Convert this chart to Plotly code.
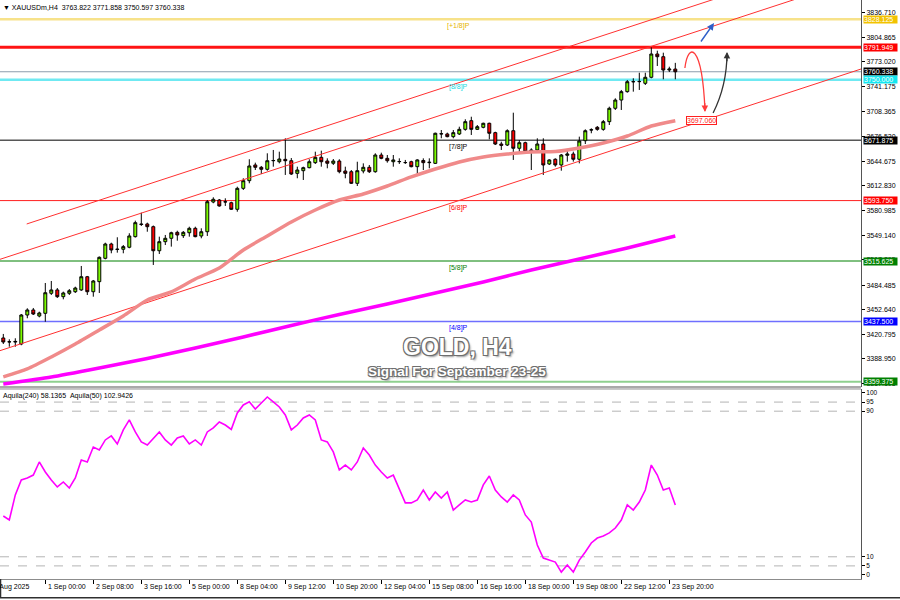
import plotly.graph_objects as go

# ---------------- data ----------------
opens = [3416.1, 3411.3, 3410.8, 3408.3, 3445.8, 3452.3, 3444.5, 3448.0, 3473.9, 3478.2,
         3469.5, 3473.9, 3475.9, 3478.2, 3495.3, 3475.9, 3488.9, 3519.1, 3537.6, 3530.5,
         3530.8, 3533.4, 3547.1, 3563.5, 3563.5, 3560.0, 3528.9, 3540.6, 3545.0, 3552.7,
         3548.4, 3552.2, 3557.9, 3548.0, 3553.5, 3591.9, 3594.5, 3592.3, 3591.0, 3582.5,
         3609.6, 3619.5, 3639.8, 3636.8, 3634.2, 3645.3, 3644.0, 3647.1, 3645.3, 3629.0,
         3632.4, 3636.3, 3642.8, 3649.7, 3644.9, 3642.0, 3644.9, 3632.0, 3631.1, 3616.1,
         3632.0, 3636.8, 3631.1, 3652.7, 3648.4, 3644.0, 3644.0, 3642.8, 3644.0, 3637.6,
         3645.6, 3642.8, 3641.9, 3679.9, 3679.9, 3676.4, 3679.9, 3685.9, 3697.1, 3685.9,
         3688.5, 3693.7, 3681.6, 3666.9, 3665.6, 3684.1, 3661.4, 3668.6, 3659.2, 3659.2,
         3666.9, 3641.1, 3647.2, 3639.8, 3652.3, 3654.0, 3647.2, 3671.2, 3685.0, 3688.5,
         3685.9, 3695.8, 3713.1, 3723.8, 3734.6, 3747.3, 3747.5, 3745.4, 3753.2, 3783.3,
         3779.8, 3762.6, 3763.822]
highs = [3421.3, 3414.4, 3415.7, 3447.1, 3454.5, 3454.9, 3450.1, 3487.2, 3489.8, 3480.7,
         3476.0, 3479.4, 3482.4, 3509.2, 3496.3, 3491.1, 3521.5, 3539.3, 3539.3, 3546.3,
         3536.3, 3551.5, 3567.8, 3578.1, 3565.2, 3561.5, 3547.1, 3549.3, 3553.5, 3554.8,
         3554.4, 3560.0, 3560.0, 3557.9, 3594.5, 3598.0, 3595.8, 3596.7, 3592.3, 3611.7,
         3622.6, 3647.2, 3642.8, 3638.5, 3654.9, 3659.2, 3657.0, 3674.3, 3648.8, 3637.6,
         3637.6, 3647.2, 3657.0, 3658.3, 3648.4, 3647.5, 3647.2, 3637.6, 3633.3, 3644.0,
         3641.9, 3639.8, 3654.9, 3655.7, 3652.7, 3652.7, 3648.4, 3646.3, 3645.3, 3647.2,
         3648.4, 3648.4, 3681.6, 3685.0, 3681.6, 3685.0, 3689.3, 3698.9, 3702.2, 3691.5,
         3694.5, 3694.5, 3682.8, 3669.9, 3685.9, 3707.4, 3672.1, 3669.9, 3661.4, 3674.3,
         3674.3, 3647.2, 3648.4, 3654.0, 3659.2, 3657.0, 3676.4, 3685.9, 3687.2, 3690.2,
         3698.0, 3715.2, 3726.0, 3736.8, 3749.7, 3751.9, 3759.1, 3759.1, 3791.9, 3787.6,
         3785.0, 3766.9, 3771.858]
lows = [3408.3, 3404.8, 3404.8, 3406.7, 3441.6, 3445.8, 3442.8, 3437.1, 3471.7, 3467.8,
        3466.1, 3471.7, 3474.3, 3477.0, 3471.7, 3469.5, 3474.3, 3517.8, 3525.6, 3526.4,
        3525.6, 3532.1, 3546.0, 3560.9, 3553.5, 3510.5, 3524.7, 3536.3, 3534.2, 3541.9,
        3545.4, 3547.1, 3546.3, 3545.0, 3548.0, 3590.3, 3585.9, 3586.8, 3581.6, 3579.4,
        3607.5, 3616.1, 3633.3, 3628.1, 3632.4, 3637.6, 3641.9, 3626.9, 3626.9, 3622.6,
        3620.4, 3635.5, 3641.1, 3637.6, 3635.5, 3639.8, 3629.0, 3622.6, 3615.2, 3612.6,
        3629.0, 3629.4, 3629.8, 3647.2, 3642.8, 3637.6, 3641.1, 3641.1, 3636.8, 3625.6,
        3633.3, 3635.5, 3641.1, 3674.3, 3675.6, 3674.3, 3678.6, 3684.1, 3678.6, 3685.0,
        3687.2, 3673.0, 3665.6, 3659.2, 3664.3, 3646.3, 3654.9, 3655.7, 3633.3, 3655.7,
        3626.9, 3639.8, 3637.6, 3632.4, 3644.1, 3644.1, 3641.9, 3666.9, 3680.8, 3684.1,
        3684.1, 3691.5, 3710.9, 3710.9, 3733.3, 3734.6, 3736.8, 3743.2, 3751.9, 3767.8,
        3750.6, 3760.0, 3750.597]
closes = [3410.9, 3411.0, 3411.6, 3445.8, 3452.3, 3447.1, 3448.4, 3474.6, 3478.2, 3469.5,
          3474.3, 3477.2, 3480.7, 3495.3, 3475.9, 3489.8, 3520.4, 3537.6, 3529.9, 3530.9,
          3534.2, 3548.0, 3565.2, 3562.9, 3560.0, 3528.9, 3540.6, 3545.0, 3552.2, 3549.3,
          3552.7, 3557.9, 3547.1, 3553.5, 3592.3, 3595.4, 3586.8, 3592.0, 3582.5, 3609.6,
          3619.5, 3638.5, 3636.8, 3634.2, 3645.3, 3645.6, 3647.5, 3645.3, 3628.1, 3633.3,
          3636.3, 3644.0, 3649.7, 3644.0, 3642.0, 3644.9, 3631.1, 3629.0, 3616.1, 3632.4,
          3636.8, 3631.1, 3652.7, 3648.4, 3645.3, 3646.3, 3644.3, 3643.0, 3637.6, 3646.3,
          3642.8, 3643.3, 3680.8, 3680.2, 3676.4, 3681.6, 3685.9, 3695.8, 3685.9, 3689.3,
          3693.7, 3680.8, 3666.9, 3665.2, 3684.1, 3661.4, 3668.6, 3657.0, 3657.0, 3666.9,
          3639.8, 3646.3, 3639.8, 3652.7, 3654.0, 3647.2, 3670.8, 3684.1, 3685.3, 3685.9,
          3695.8, 3713.1, 3723.8, 3734.6, 3747.5, 3747.6, 3747.8, 3753.2, 3783.3, 3779.8,
          3762.6, 3763.8, 3760.338]
bars = list(range(len(opens)))

fast_ma_bars = [0, 4, 8, 12, 16, 20, 24, 28, 32, 36, 40, 44, 48, 52, 56, 60, 64, 68, 72,
                76, 80, 84, 88, 92, 96, 100, 104, 108, 112]
fast_ma = [3365.7, 3376.0, 3391.5, 3408.3, 3426.4, 3444.6, 3465.2, 3475.6, 3492.4, 3506.6,
           3529.9, 3548.0, 3566.1, 3581.6, 3594.5, 3602.3, 3612.6, 3624.3, 3634.6, 3643.7,
           3650.1, 3654.0, 3656.6, 3657.2, 3661.8, 3668.2, 3677.3, 3690.2, 3697.06]
slow_ma_bars = [0, 8, 16, 24, 32, 40, 48, 56, 64, 72, 80, 88, 96, 104, 112]
slow_ma = [3356.6, 3365.6, 3377.3, 3389.6, 3403.2, 3417.4, 3432.3, 3446.5, 3460.1, 3474.3,
           3488.5, 3504.0, 3518.2, 3532.5, 3548.0]

aquila = [32.4, 30.2, 44.0, 52.2, 53.3, 54.9, 62.1, 56.6, 52.2, 48.4,
          51.1, 47.8, 53.3, 63.2, 62.1, 70.3, 68.7, 74.2, 76.4, 72.0,
          79.7, 85.2, 78.6, 73.1, 71.4, 75.3, 78.6, 74.2, 71.4, 75.3,
          76.4, 72.0, 74.2, 71.4, 78.6, 80.8, 84.1, 82.4, 80.0, 89.0,
          93.4, 95.2, 91.2, 94.5, 97.8, 95.1, 92.3, 87.9, 79.7, 82.4,
          86.3, 87.9, 85.2, 74.2, 73.1, 67.6, 57.7, 60.4, 57.7, 62.1,
          69.8, 65.9, 60.4, 56.6, 53.3, 54.9, 46.7, 39.6, 39.6, 41.2,
          46.7, 41.2, 45.6, 42.3, 45.6, 35.7, 38.5, 41.2, 40.1, 41.2,
          49.5, 54.4, 46.7, 42.9, 40.1, 44.0, 41.2, 33.0, 29.1, 16.5,
          9.3, 8.2, 7.1, 1.6, 5.5, 1.6, 8.2, 12.6, 17.6, 20.3,
          21.4, 23.1, 25.8, 30.2, 38.5, 35.7, 40.1, 46.7, 60.4, 54.9,
          46.7, 47.8, 38.5]

# regression channel (start / end points: bar, price)
channel_x = [[3.9, 143.0], [-0.55, 143.0], [-0.55, 143.0]]
channel_y = [[3563.5, 3916.4], [3517.8, 3882.0], [3399.7, 3764.0]]

price_ticks = [3836.710, 3804.865, 3773.020, 3741.175, 3708.365, 3676.520, 3644.675,
               3612.830, 3580.985, 3549.140, 3517.295, 3484.485, 3452.640, 3420.795,
               3388.950, 3357.105]
osc_ticks = [100, 95, 90, 10, 5, 0]
osc_levels = [95, 90, 10, 5]

time_tick_bars = [7, 15, 23, 31, 39, 47, 55, 63, 71, 79, 87, 95, 103, 111]
time_tick_labels = ["1 Sep 00:00", "2 Sep 08:00", "3 Sep 16:00", "5 Sep 00:00",
                    "8 Sep 04:00", "9 Sep 12:00", "10 Sep 20:00", "12 Sep 04:00",
                    "15 Sep 08:00", "16 Sep 16:00", "18 Sep 00:00", "19 Sep 08:00",
                    "22 Sep 12:00", "23 Sep 20:00"]
first_date_label = "28 Aug 2025"

# horizontal levels
level_values = [3828.125, 3791.949, 3760.338, 3750.000, 3671.875, 3593.750, 3515.625,
                3437.500, 3359.375]
level_line_colors = ["#f7e28a", "#ff1414", "#8c9cac", "#6fe9f2", "#000000", "#ff2020",
                     "#008000", "#6f6fff", "#8fd08f"]
level_line_widths = [2.5, 3, 1, 2.5, 1, 1, 1, 1.5, 2]
level_box_colors = ["#f2c200", "#ff0000", "#000000", "#14e6f0", "#000000", "#ff0000",
                    "#008000", "#0000ff", "#008000"]

murrey_names = ["[+1/8]P", "[8/8]P", "[7/8]P", "[6/8]P", "[5/8]P", "[4/8]P"]
murrey_values = [3828.125, 3750.000, 3671.875, 3593.750, 3515.625, 3437.500]
murrey_colors = ["#e6b400", "#18d8e0", "#000000", "#ff0000", "#008000", "#0000ff"]
murrey_label_bar = 75.8

header_text = "\u25bc XAUUSDm,H4\u00a0\u00a03763.822 3771.858 3750.597 3760.338"
osc_header = "Aquila(240) 58.1365\u00a0\u00a0Aquila(50) 102.9426"
target_price = 3697.060

FONT = "Liberation Sans, Arial, sans-serif"

fig = go.Figure()

# channel lines
for cx, cy in zip(channel_x, channel_y):
    fig.add_trace(go.Scatter(x=cx, y=cy, mode="lines", line=dict(color="#ff3030", width=1),
                             xaxis="x", yaxis="y", hoverinfo="skip", showlegend=False))

# moving averages
fig.add_trace(go.Scatter(x=slow_ma_bars, y=slow_ma, mode="lines",
                         line=dict(color="#ff00ff", width=3.5, shape="spline", smoothing=0.6),
                         xaxis="x", yaxis="y", showlegend=False))
fig.add_trace(go.Scatter(x=fast_ma_bars, y=fast_ma, mode="lines",
                         line=dict(color="#f08a8a", width=3.5, shape="spline", smoothing=0.6),
                         xaxis="x", yaxis="y", showlegend=False))

# candles
fig.add_trace(go.Candlestick(
    x=bars, open=opens, high=highs, low=lows, close=closes,
    increasing=dict(fillcolor="#7cfc00", line=dict(color="#000000", width=1)),
    decreasing=dict(fillcolor="#ff0000", line=dict(color="#000000", width=1)),
    whiskerwidth=0, xaxis="x", yaxis="y", showlegend=False))

# oscillator
fig.add_trace(go.Scatter(x=bars, y=aquila, mode="lines",
                         line=dict(color="#ff00ff", width=1.6),
                         xaxis="x", yaxis="y2", showlegend=False))

shapes = []
for v, c, w in zip(level_values, level_line_colors, level_line_widths):
    shapes.append(dict(type="line", xref="paper", x0=0, x1=1, yref="y", y0=v, y1=v,
                       line=dict(color=c, width=w), layer="below"))
for v in osc_levels:
    shapes.append(dict(type="line", xref="paper", x0=0, x1=1, yref="y2", y0=v, y1=v,
                       line=dict(color="#b4b4b4", width=1, dash="dash"), layer="below"))

MAIN_BOTTOM = 0.3316
LOW_TOP = 0.3282
shapes.append(dict(type="line", xref="paper", yref="paper", x0=0, x1=1, y0=MAIN_BOTTOM,
                   y1=MAIN_BOTTOM, line=dict(color="#8c8c8c", width=1.5)))
shapes.append(dict(type="line", xref="paper", yref="paper", x0=0, x1=1, y0=LOW_TOP,
                   y1=LOW_TOP, line=dict(color="#8c8c8c", width=1)))
# window frame at the bottom
shapes.append(dict(type="line", xref="paper", yref="paper", x0=0, x1=1.05, y0=-0.0325,
                   y1=-0.0325, line=dict(color="#303030", width=1.5)))
shapes.append(dict(type="line", xref="paper", yref="paper", x0=0.0006, x1=0.0006, y0=0,
                   y1=-0.0325, line=dict(color="#303030", width=1.5)))

# forecast arrows (curves)
shapes.append(dict(type="path", xref="x", yref="y",
                   path="M 113.6,3765.2 C 114.1,3798.8 116.45,3798.8 116.95,3710.0",
                   line=dict(color="#ff3b3b", width=1.3)))
shapes.append(dict(type="path", xref="x", yref="y",
                   path="M 118.3,3707.0 C 119.8,3730.3 120.6,3756.2 120.62,3784.0",
                   line=dict(color="#333333", width=1.3)))

annotations = []
# arrow heads
annotations.append(dict(x=116.95, y=3708.3, xref="x", yref="y", ax=116.9, ay=3722.0,
                        axref="x", ayref="y", text="", showarrow=True, arrowhead=2,
                        arrowsize=1, arrowwidth=1.3, arrowcolor="#ff3b3b"))
annotations.append(dict(x=120.62, y=3786.0, xref="x", yref="y", ax=120.6, ay=3772.0,
                        axref="x", ayref="y", text="", showarrow=True, arrowhead=2,
                        arrowsize=1, arrowwidth=1.3, arrowcolor="#333333"))
annotations.append(dict(x=118.45, y=3823.4, xref="x", yref="y", ax=116.1, ay=3797.5,
                        axref="x", ayref="y", text="", showarrow=True, arrowhead=2,
                        arrowsize=1, arrowwidth=1.4, arrowcolor="#2f5fc8"))

# right-hand price boxes
for v, bc in zip(level_values, level_box_colors):
    annotations.append(dict(x=1, xref="paper", y=v, yref="y", xanchor="left", yanchor="middle",
                            xshift=1.5, text=f"{v:.3f}", showarrow=False, bgcolor=bc,
                            borderpad=0, width=33, align="left",
                            font=dict(family=FONT, size=7, color="#ffffff")))

# murrey labels
for name, v, c in zip(murrey_names, murrey_values, murrey_colors):
    annotations.append(dict(x=murrey_label_bar, xref="x", y=v, yref="y", xanchor="center",
                            yanchor="top", yshift=-1, text=name, showarrow=False,
                            font=dict(family=FONT, size=7, color=c)))

# target box
annotations.append(dict(x=116.3, xref="x", y=target_price, yref="y", text=f"{target_price:.3f}",
                        showarrow=False, bgcolor="#ffffff", bordercolor="#ff2020",
                        borderwidth=1, borderpad=0, font=dict(family=FONT, size=7, color="#ff2020")))

# headers
annotations.append(dict(x=0, xref="paper", y=1, yref="paper", xanchor="left", yanchor="top",
                        xshift=1, yshift=-2, text=header_text, showarrow=False,
                        font=dict(family=FONT, size=7, color="#000000")))
annotations.append(dict(x=0, xref="paper", y=LOW_TOP, yref="paper", xanchor="left",
                        yanchor="top", xshift=1, yshift=-1, text=osc_header, showarrow=False,
                        font=dict(family=FONT, size=7, color="#000000")))

# title
shadow = ("-1px -1px 0 #6e6e6e, 1px -1px 0 #6e6e6e, -1px 1px 0 #6e6e6e, "
          "1px 1px 0 #6e6e6e, 2px 2px 2px #9a9a9a")
annotations.append(dict(x=0.5308, xref="paper", y=0.4012, yref="paper", text="<b>GOLD, H4</b>",
                        showarrow=False, font=dict(family=FONT, size=23, color="#ffffff",
                                                   shadow=shadow)))
annotations.append(dict(x=0.5308, xref="paper", y=0.358, yref="paper",
                        text="<b>Signal For September 23-25</b>", showarrow=False,
                        font=dict(family=FONT, size=13.5, color="#ffffff", shadow=shadow)))

# time labels
for tb, tl in zip(time_tick_bars, time_tick_labels):
    annotations.append(dict(x=tb, xref="x", y=0, yref="paper", xanchor="left", yanchor="top",
                            xshift=1, yshift=-2, text=tl, showarrow=False,
                            font=dict(family=FONT, size=7, color="#000000")))
annotations.append(dict(x=-0.014, xref="paper", y=0, yref="paper", xanchor="left",
                        yanchor="top", yshift=-2, text=first_date_label, showarrow=False,
                        font=dict(family=FONT, size=7, color="#000000")))

fig.update_layout(
    width=900, height=600,
    margin=dict(l=0, r=39, t=0, b=21),
    paper_bgcolor="#ffffff", plot_bgcolor="#ffffff",
    font=dict(family=FONT, size=7, color="#000000"),
    showlegend=False,
    shapes=shapes, annotations=annotations,
    xaxis=dict(domain=[0, 1], range=[-0.55, 142.95], anchor="y2", showgrid=False,
               zeroline=False, showline=True, linecolor="#8c8c8c", linewidth=1,
               ticks="outside", ticklen=4, tickcolor="#000000", tickvals=time_tick_bars,
               showticklabels=False, rangeslider=dict(visible=False), fixedrange=True),
    yaxis=dict(domain=[MAIN_BOTTOM, 1], range=[3352.7, 3853.13], side="right", anchor="x",
               showgrid=False, zeroline=False, showline=True, linecolor="#555555",
               linewidth=1, ticks="outside", ticklen=3, tickcolor="#000000",
               tickvals=price_ticks, ticktext=[f"{t:.3f}" for t in price_ticks],
               tickfont=dict(family=FONT, size=7, color="#000000")),
    yaxis2=dict(domain=[0, LOW_TOP], range=[-2.2, 102.2], side="right", anchor="x",
                showgrid=False, zeroline=False, showline=True, linecolor="#555555",
                linewidth=1, ticks="outside", ticklen=3, tickcolor="#000000",
                tickvals=osc_ticks, ticktext=[str(t) for t in osc_ticks],
                tickfont=dict(family=FONT, size=6.5, color="#000000")),
)

fig.write_html("out.html", config={"displayModeBar": False},
               post_script="document.body.style.margin='0';")
